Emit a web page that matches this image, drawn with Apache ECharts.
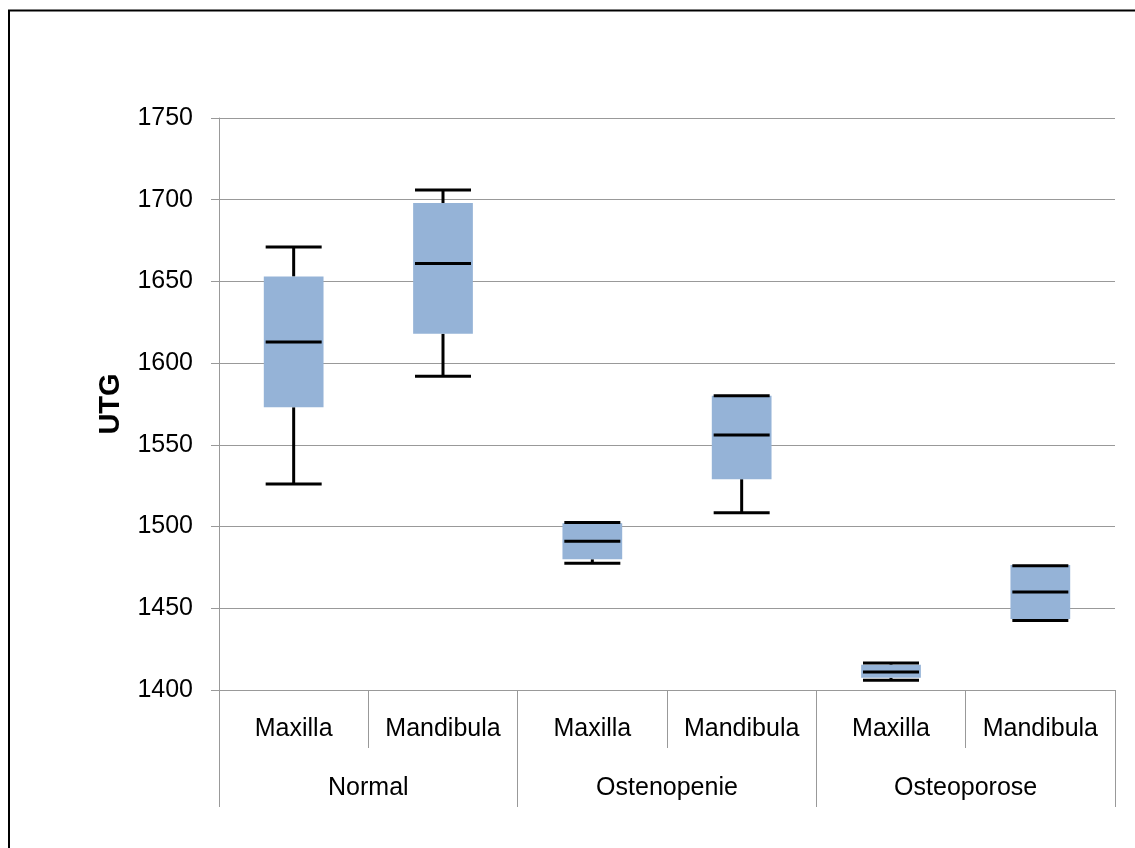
<!DOCTYPE html>
<html>
<head>
<meta charset="utf-8">
<script src="https://cdn.jsdelivr.net/npm/echarts@6/dist/echarts.min.js"></script>
<style>
  html, body { margin: 0; padding: 0; background: #fff; }
  #chart { width: 1135px; height: 848px; }
</style>
</head>
<body>
<div id="chart"></div>
<script>
// categories
const groups = ['Normal', 'Ostenopenie', 'Osteoporose'];
const sites = ['Maxilla', 'Mandibula', 'Maxilla', 'Mandibula', 'Maxilla', 'Mandibula'];
const yTicks = { min: 1400, max: 1750, step: 50 };

// box values per category: min, q1, median, q3, max
const minVals = [1526, 1592, 1477.5, 1508.5, 1406, 1442.5];
const q1Vals = [1573, 1618, 1480, 1529, 1407.5, 1443.5];
const medianVals = [1613, 1661, 1491, 1556, 1411, 1460];
const q3Vals = [1653, 1698, 1502, 1580, 1415.5, 1476.5];
const maxVals = [1671, 1706, 1502.5, 1580, 1416.5, 1476];

const boxData = sites.map((s, i) => [i, minVals[i], q1Vals[i], medianVals[i], q3Vals[i], maxVals[i]]);

const chart = echarts.init(document.getElementById('chart'));
const font = 'Liberation Sans, Arial, sans-serif';

function renderBox(params, api) {
    const x = api.value(0);
    const pMin = api.coord([x, api.value(1)]);
    const pQ1 = api.coord([x, api.value(2)]);
    const pMed = api.coord([x, api.value(3)]);
    const pQ3 = api.coord([x, api.value(4)]);
    const pMax = api.coord([x, api.value(5)]);
    const band = api.size([1, 0])[0];
    const boxW = band * 0.4;
    const capW = band * 0.375;
    const cx = pMed[0];
    const lineStyle = { stroke: '#000', lineWidth: 3 };
    return {
        type: 'group',
        children: [
            { type: 'line', shape: { x1: cx, y1: pMax[1], x2: cx, y2: pQ3[1] }, style: lineStyle },
            { type: 'line', shape: { x1: cx, y1: pQ1[1], x2: cx, y2: pMin[1] }, style: lineStyle },
            {
                type: 'rect',
                shape: { x: cx - boxW / 2, y: pQ3[1], width: boxW, height: pQ1[1] - pQ3[1] },
                style: { fill: '#95B3D7' }
            },
            { type: 'line', shape: { x1: cx - capW / 2, y1: pMed[1], x2: cx + capW / 2, y2: pMed[1] }, style: lineStyle },
            { type: 'line', shape: { x1: cx - capW / 2, y1: pMax[1], x2: cx + capW / 2, y2: pMax[1] }, style: lineStyle },
            { type: 'line', shape: { x1: cx - capW / 2, y1: pMin[1], x2: cx + capW / 2, y2: pMin[1] }, style: lineStyle }
        ]
    };
}

const option = {
    animation: false,
    backgroundColor: '#fff',
    graphic: [
        {
            type: 'rect',
            shape: { x: 9, y: 10.5, width: 1140, height: 860 },
            style: { fill: 'none', stroke: '#000', lineWidth: 2 }
        }
    ],
    grid: { left: 219, right: 20, top: 118, bottom: 158 },
    xAxis: [
        {
            type: 'category',
            data: sites,
            position: 'bottom',
            boundaryGap: true,
            axisLine: { show: true, lineStyle: { color: '#999', width: 1 } },
            axisTick: { show: true, length: 58, interval: 0, lineStyle: { color: '#999' } },
            axisLabel: { color: '#000', fontSize: 25, fontFamily: font, margin: 27, interval: 0 },
            splitLine: { show: false }
        },
        {
            type: 'category',
            data: groups,
            position: 'bottom',
            boundaryGap: true,
            axisLine: { show: false },
            axisTick: { show: true, length: 117, interval: 0, lineStyle: { color: '#999' } },
            axisLabel: { color: '#000', fontSize: 25, fontFamily: font, margin: 86, interval: 0 },
            splitLine: { show: false }
        }
    ],
    yAxis: {
        type: 'value',
        min: yTicks.min,
        max: yTicks.max,
        interval: yTicks.step,
        name: 'UTG',
        nameLocation: 'middle',
        nameGap: 94,
        nameTextStyle: { color: '#000', fontSize: 29, fontWeight: 'bold', fontFamily: font },
        axisLine: { show: true, lineStyle: { color: '#999', width: 1 } },
        axisTick: { show: true, length: 8, lineStyle: { color: '#999' } },
        axisLabel: {
            color: '#000', fontSize: 25, fontFamily: font, margin: 26,
            formatter: v => String(v)
        },
        splitLine: { show: true, lineStyle: { color: '#999', width: 1 } }
    },
    series: [
        {
            type: 'custom',
            xAxisIndex: 0,
            renderItem: renderBox,
            encode: { x: 0, y: [1, 2, 3, 4, 5] },
            data: boxData
        }
    ]
};

chart.setOption(option);
</script>
</body>
</html>
